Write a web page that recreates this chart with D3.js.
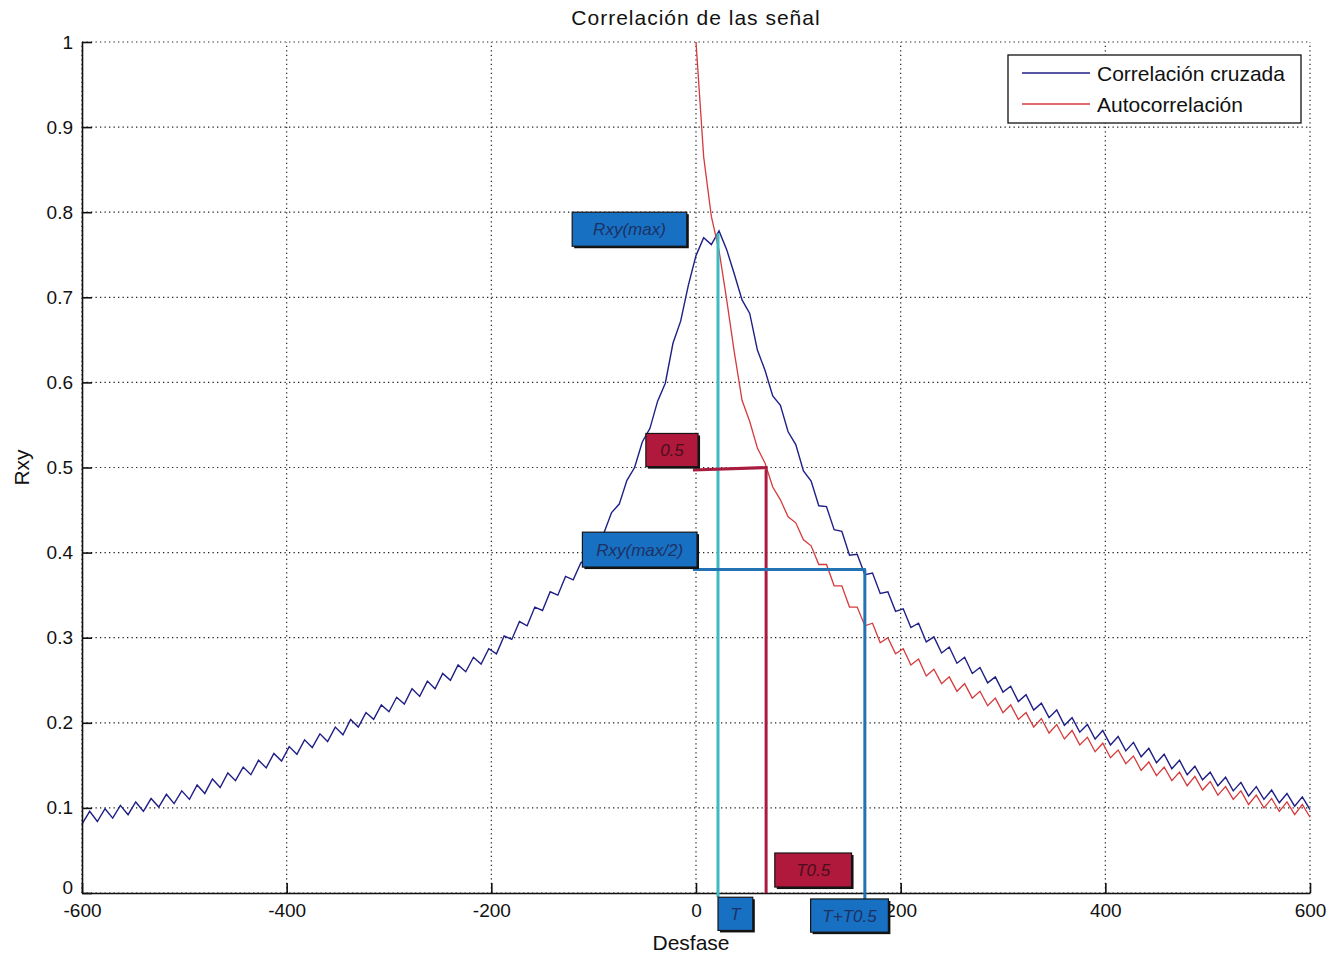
<!DOCTYPE html>
<html>
<head>
<meta charset="utf-8">
<script src="https://cdn.jsdelivr.net/npm/d3@7"></script>
<style>
  body { margin: 0; background: #fff; }
  svg { display: block; font-family: "Liberation Sans", Arial, sans-serif; }
</style>
</head>
<body>
<div id="chart"></div>
<script>
// ---- data ----
var lagStart = -600, lagStep = 7.5;

// Correlación cruzada, one value every 7.5 lags from -600 to 600
var crossCorr = [
  0.081,0.096,0.084,0.099,0.088,0.103,0.092,0.107,0.096,0.111,
  0.101,0.116,0.105,0.120,0.110,0.127,0.117,0.134,0.124,0.141,
  0.132,0.148,0.139,0.156,0.147,0.164,0.155,0.172,0.163,0.180,
  0.171,0.187,0.178,0.195,0.186,0.204,0.195,0.212,0.204,0.221,
  0.213,0.230,0.222,0.240,0.231,0.249,0.240,0.258,0.250,0.268,
  0.260,0.277,0.269,0.287,0.281,0.302,0.298,0.319,0.314,0.336,
  0.332,0.354,0.350,0.372,0.368,0.388,0.394,0.417,0.423,0.447,
  0.457,0.485,0.500,0.530,0.546,0.578,0.599,0.646,0.672,0.714,
  0.749,0.770,0.762,0.778,0.756,0.727,0.697,0.681,0.638,0.614,
  0.584,0.573,0.542,0.527,0.496,0.484,0.455,0.454,0.427,0.425,
  0.397,0.398,0.374,0.376,0.352,0.354,0.331,0.334,0.312,0.317,
  0.295,0.301,0.282,0.289,0.270,0.277,0.258,0.265,0.247,0.254,
  0.236,0.243,0.225,0.233,0.215,0.223,0.206,0.215,0.197,0.206,
  0.189,0.198,0.181,0.191,0.174,0.184,0.167,0.177,0.160,0.170,
  0.153,0.163,0.146,0.156,0.139,0.149,0.133,0.142,0.126,0.136,
  0.120,0.130,0.114,0.125,0.110,0.121,0.106,0.117,0.102,0.113,0.098
];

// Autocorrelación, one value every 7.5 lags from 0 to 600
var autoLagStart = 0;
var autoCorr = [
  1.000,0.865,0.795,0.755,0.697,0.635,0.579,0.554,0.523,0.505,
  0.477,0.462,0.442,0.435,0.415,0.408,0.386,0.386,0.361,0.361,
  0.336,0.336,0.314,0.317,0.294,0.300,0.281,0.287,0.268,0.275,
  0.255,0.263,0.246,0.254,0.237,0.246,0.229,0.237,0.220,0.229,
  0.212,0.221,0.204,0.212,0.195,0.205,0.188,0.198,0.181,0.191,
  0.174,0.183,0.166,0.176,0.159,0.168,0.152,0.161,0.144,0.154,
  0.138,0.148,0.132,0.142,0.126,0.137,0.121,0.131,0.115,0.125,
  0.110,0.120,0.104,0.115,0.100,0.111,0.096,0.107,0.092,0.104,0.089
];

var xTicks = [-600, -400, -200, 0, 200, 400, 600];
var xTickLabels = ["-600", "-400", "-200", "0", "200", "400", "600"];
var yTicks = [0, 0.1, 0.2, 0.3, 0.4, 0.5, 0.6, 0.7, 0.8, 0.9, 1];
var yTickLabels = ["0","0.1","0.2","0.3","0.4","0.5","0.6","0.7","0.8","0.9","1"];
var seriesNames = ["Correlación cruzada", "Autocorrelación"];

// hand-drawn marks, in data units (lag, Rxy)
var guideLines = [
  {kind: "cyan", pts: [[21.5, 0.775], [21.5, -0.005]]},
  {kind: "crimson", pts: [[-3, 0.497], [70, 0.5], [68.5, 0.5], [68.5, 0]]},
  {kind: "blue", pts: [[-3, 0.38], [166, 0.38], [165, 0.38], [165, -0.007]]}
];
var noteBoxes = [
  {text: "Rxy(max)",   kind: "blue",    lag0: -121, lag1: -9,   v0: 0.800, v1: 0.760},
  {text: "0.5",        kind: "crimson", lag0: -49,  lag1: 2,    v0: 0.540, v1: 0.501},
  {text: "Rxy(max/2)", kind: "blue",    lag0: -111, lag1: 1,    v0: 0.424, v1: 0.383},
  {text: "T0.5",       kind: "crimson", lag0: 77,   lag1: 152,  v0: 0.047, v1: 0.007},
  {text: "T",          kind: "blue",    lag0: 21.5, lag1: 55.5, v0: -0.005, v1: -0.044},
  {text: "T+T0.5",     kind: "blue",    lag0: 112,  lag1: 188,  v0: -0.007, v1: -0.046}
];

// ---- layout ----
var W = 1340, H = 955;
var margin = {top: 42, right: 30, bottom: 62, left: 82};
var lineColor = {"cyan": "#3fbac3", "crimson": "#a81c40", "blue": "#2272b4"};
var boxColor = {"blue": "#1870c2", "crimson": "#b0183c"};
var boxText = {"blue": "#1d3264", "crimson": "#4a0f1c"};

var svg = d3.select("#chart").append("svg")
    .attr("width", W)
    .attr("height", H);

var x = d3.scaleLinear().domain([-600, 600]).range([margin.left, W - margin.right]);
var y = d3.scaleLinear().domain([0, 1]).range([H - margin.bottom, margin.top]);

// grid
var grid = svg.append("g")
    .attr("stroke", "#222")
    .attr("stroke-width", 1.2)
    .attr("stroke-dasharray", "1.3,3.2");
grid.selectAll("line.v").data(xTicks).enter().append("line")
    .attr("x1", d => x(d)).attr("x2", d => x(d))
    .attr("y1", y(0)).attr("y2", y(1));
grid.selectAll("line.h").data(yTicks).enter().append("line")
    .attr("x1", x(-600)).attr("x2", x(600))
    .attr("y1", d => y(d)).attr("y2", d => y(d));

// curves
var crossData = crossCorr.map((v, i) => [lagStart + i * lagStep, v]);
var autoData = autoCorr.map((v, i) => [autoLagStart + i * lagStep, v]);
var line = d3.line().x(d => x(d[0])).y(d => y(d[1]));

svg.append("path").datum(crossData)
    .attr("d", line)
    .attr("fill", "none")
    .attr("stroke", "#1f1f86")
    .attr("stroke-width", 1.4);
svg.append("path").datum(autoData)
    .attr("d", line)
    .attr("fill", "none")
    .attr("stroke", "#d63a3c")
    .attr("stroke-width", 1.3);

// axes (MATLAB style: ticks pointing in, no box)
var yAxis = svg.append("g")
    .attr("transform", "translate(" + margin.left + ",0)")
    .call(d3.axisLeft(y).tickValues(yTicks).tickFormat((d, i) => yTickLabels[i])
      .tickSizeInner(-10).tickSizeOuter(0).tickPadding(9));
var xAxis = svg.append("g")
    .attr("transform", "translate(0," + y(0) + ")")
    .call(d3.axisBottom(x).tickValues(xTicks).tickFormat((d, i) => xTickLabels[i])
      .tickSizeInner(-10).tickSizeOuter(0).tickPadding(12));
[xAxis, yAxis].forEach(function(a) {
  a.select(".domain").attr("stroke", "#111").attr("stroke-width", 1.6);
  a.selectAll(".tick line").attr("stroke", "#111").attr("stroke-width", 1.6);
  a.selectAll(".tick text").attr("fill", "#111")
    .style("font-size", "19px").style("font-family", "'Liberation Sans', Arial, sans-serif");
});
xAxis.selectAll(".tick text").attr("dy", "0.62em");
// the "0" of the y axis sits a little higher, clear of "-600"
yAxis.selectAll(".tick text").filter(d => d === 0).attr("dy", "0.05em");

// title and axis labels
svg.append("text")
    .attr("x", x(0)).attr("y", 25)
    .attr("text-anchor", "middle")
    .style("font-size", "21px").style("letter-spacing", "1px")
    .attr("fill", "#111")
    .text("Correlación de las señal");
svg.append("text")
    .attr("x", 691).attr("y", 950)
    .attr("text-anchor", "middle")
    .style("font-size", "21px")
    .attr("fill", "#111")
    .text("Desfase");
svg.append("text")
    .attr("transform", "translate(29," + y(0.5) + ") rotate(-90)")
    .attr("text-anchor", "middle")
    .style("font-size", "21px")
    .attr("fill", "#111")
    .text("Rxy");

// hand-drawn guides
var lineG = svg.append("g");
guideLines.forEach(function(g) {
  lineG.append("path").datum(g.pts)
    .attr("d", line)
    .attr("fill", "none")
    .attr("stroke", lineColor[g.kind])
    .attr("stroke-width", 3);
});

// note boxes
var boxG = svg.append("g");
noteBoxes.forEach(function(b) {
  var bx = x(b.lag0), by = y(b.v0), bw = x(b.lag1) - x(b.lag0), bh = y(b.v1) - y(b.v0);
  boxG.append("rect")
    .attr("x", bx + 2).attr("y", by + 2).attr("width", bw).attr("height", bh)
    .attr("fill", "#111");
  boxG.append("rect")
    .attr("x", bx).attr("y", by).attr("width", bw).attr("height", bh)
    .attr("fill", boxColor[b.kind])
    .attr("stroke", "#161616").attr("stroke-width", 1.2);
  boxG.append("text")
    .attr("x", bx + bw / 2).attr("y", by + bh / 2)
    .attr("dy", "0.35em")
    .attr("text-anchor", "middle")
    .style("font-size", "17px").style("font-style", "italic")
    .attr("fill", boxText[b.kind])
    .text(b.text);
});

// legend
var leg = svg.append("g").attr("transform", "translate(1008,55)");
leg.append("rect")
    .attr("width", 293).attr("height", 68)
    .attr("fill", "#fff").attr("stroke", "#111").attr("stroke-width", 1.3);
var legColors = ["#1f1f86", "#d63a3c"];
seriesNames.forEach(function(name, i) {
  var ly = 18 + i * 31;
  leg.append("line")
    .attr("x1", 14).attr("x2", 82).attr("y1", ly).attr("y2", ly)
    .attr("stroke", legColors[i]).attr("stroke-width", 1.4);
  leg.append("text")
    .attr("x", 89).attr("y", ly).attr("dy", "0.36em")
    .style("font-size", "21px")
    .attr("fill", "#111")
    .text(name);
});
</script>
</body>
</html>
